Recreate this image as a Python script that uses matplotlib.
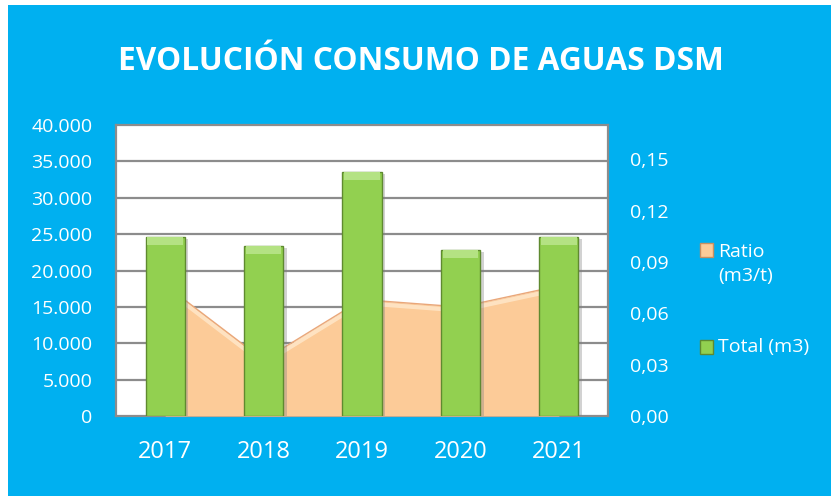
import matplotlib
matplotlib.use('Agg')
import matplotlib.pyplot as plt
import matplotlib.patches as mpatches
import matplotlib.patheffects as pe
import numpy as np

# ── DATA ──
years = ['2017', '2018', '2019', '2020', '2021']
total_m3 = [24600, 23350, 33550, 22800, 24600]
ratio_m3t = [0.0765, 0.0327, 0.0680, 0.0637, 0.0760]
left_ticks = [0, 5000, 10000, 15000, 20000, 25000, 30000, 35000, 40000]
right_ticks = [0.00, 0.03, 0.06, 0.09, 0.12, 0.15]

# ── PALETTE ──
BG = '#00B0F0'
WHITE = '#FFFFFF'
GRID = '#8C8C8C'
GREEN = '#92D050'
GREEN_HI = '#B4E283'
GREEN_EDGE = '#5F8A30'
PEACH = '#FCCB98'
PEACH_EDGE = '#E9A77A'
PEACH_HI = '#FFE9CC'

plt.rcParams['font.family'] = ['Open Sans', 'DejaVu Sans']

W, H = 831, 496
fig = plt.figure(figsize=(W / 100, H / 100), dpi=100)
fig.patch.set_facecolor('white')

# blue panel
fig.add_artist(mpatches.Rectangle((8 / W, 0), 1 - 8 / W, (H - 5) / H,
               transform=fig.transFigure, facecolor=BG, edgecolor='none', zorder=0))

fig.text(0.507, 1 - 62 / H, 'EVOLUCIÓN CONSUMO DE AGUAS DSM',
         ha='center', va='center', fontsize=22.8, fontweight='bold', color=WHITE)

rect = [116 / W, 80 / H, 492 / W, 291 / H]
ax = fig.add_axes(rect)        # back: white + grid + left ticks
ax_r = ax.twinx()              # middle: area (ratio)
ax_b = ax.twinx()              # front: bars (total)
ax.set_zorder(1)
ax_r.set_zorder(2)
ax_b.set_zorder(3)
ax.set_facecolor(WHITE)
ax_r.patch.set_visible(False)
ax_b.patch.set_visible(False)

x = np.arange(len(years))
lmax = 40000
rmax = 0.17

# grid / left axis
ax.set_xlim(-0.5, len(years) - 0.5)
ax.set_ylim(0, lmax)
ax.set_yticks(left_ticks)
ax.set_yticklabels([f'{t:,}'.replace(',', '.') for t in left_ticks])
for t in left_ticks[1:-1]:
    ax.axhline(t, color=GRID, lw=1.6, zorder=1)
ax.tick_params(axis='y', length=0, pad=17, labelsize=14, colors=WHITE)
ax.tick_params(axis='x', length=0, pad=17, labelsize=17, colors=WHITE)
ax.set_xticks(x)
ax.set_xticklabels(years)
for s in ax.spines.values():
    s.set_color(GRID)
    s.set_linewidth(1.6)

# area (secondary axis)
ax_r.set_ylim(0, rmax)
ax_r.fill_between(x, 0, ratio_m3t, color=PEACH, lw=0, zorder=2)
ax_r.plot(x, np.array(ratio_m3t) - rmax * 0.012, color=PEACH_HI, lw=3, alpha=0.8, zorder=3)
ax_r.plot(x, ratio_m3t, color=PEACH_EDGE, lw=1.0, zorder=4)
ax_r.set_yticks(right_ticks)
ax_r.set_yticklabels([f'{t:.2f}'.replace('.', ',') for t in right_ticks])
ax_r.tick_params(axis='y', length=0, pad=16, labelsize=14, colors=WHITE)
for s in ax_r.spines.values():
    s.set_visible(False)

# bars
ax_b.set_ylim(0, lmax)
ax_b.set_yticks([])
for s in ax_b.spines.values():
    s.set_visible(False)
bars = ax_b.bar(x, total_m3, width=0.4, color=GREEN, edgecolor=GREEN_EDGE, lw=1.0, zorder=3)
for b in bars:
    b.set_path_effects([pe.SimplePatchShadow(offset=(2.5, -1.5), shadow_rgbFace='#7F7F7F', alpha=0.35),
                        pe.Normal()])
cap = lmax * 0.028
ax_b.bar(x, [cap] * len(x), bottom=np.array(total_m3) - cap, width=0.36,
         color=GREEN_HI, lw=0, zorder=4)

# legend
items = [(PEACH, '#C98F60', 'Ratio\n(m3/t)', 250, 264), (GREEN, GREEN_EDGE, 'Total (m3)', 347, 347)]
for fc, ec, label, ym, yt in items:
    fig.add_artist(mpatches.Rectangle((700 / W, 1 - (ym + 7) / H), 13 / W, 14 / H,
                   transform=fig.transFigure, facecolor=fc, edgecolor=ec, lw=1))
    fig.text(718 / W, 1 - yt / H, label, ha='left', va='center',
             fontsize=14, color=WHITE, linespacing=1.45)

fig.savefig('out.png', dpi=100, facecolor=fig.get_facecolor())
